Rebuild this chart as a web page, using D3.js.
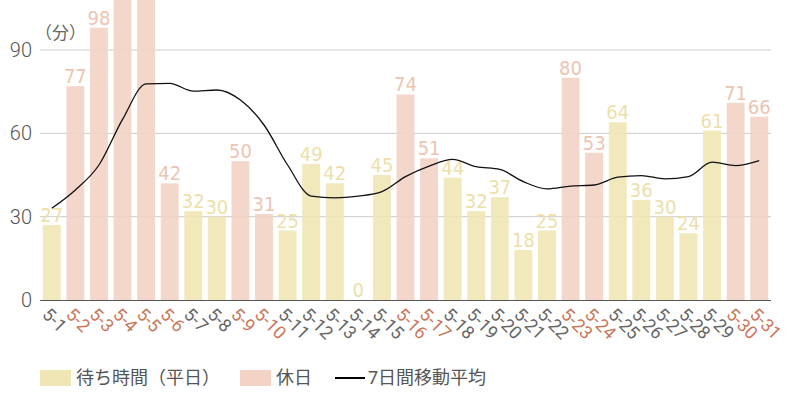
<!DOCTYPE html>
<html><head><meta charset="utf-8">
<script src="https://cdn.jsdelivr.net/npm/d3@7"></script>
<style>
html,body{margin:0;padding:0;background:#fff;}
svg{display:block;font-family:Roboto,"Noto Sans CJK JP",sans-serif;}
</style></head>
<body><svg id="chart" width="800" height="400"></svg>
<script>
const days = ["5-1","5-2","5-3","5-4","5-5","5-6","5-7","5-8","5-9","5-10","5-11","5-12","5-13","5-14","5-15","5-16","5-17","5-18","5-19","5-20","5-21","5-22","5-23","5-24","5-25","5-26","5-27","5-28","5-29","5-30","5-31"];
const waitTimes = [27,77,98,120,115,42,32,30,50,31,25,49,42,0,45,74,51,44,32,37,18,25,80,53,64,36,30,24,61,71,66];
const holidays = ["5-2","5-3","5-4","5-5","5-6","5-9","5-10","5-16","5-17","5-23","5-24","5-30","5-31"];
const movingAvg = [33,39.6,48.6,65,77.8,78,75.2,75.6,72,63,48.6,37.4,36.8,37.4,39,44.4,48.2,50.6,48,47,42.6,40,41,41.4,44.2,44.8,43.6,44.4,49.6,48.4,50.2];
const yTicks = [0,30,60,90];
const unitLabel = "（分）";
const legendLabels = ["待ち時間（平日）","休日","7日間移動平均"];

const colWeek = "#F0E5B5", colHol = "#F2D3C5";
const txtWeek = "#EDE0A8", txtHol = "#EDC4B2";
const axWeek = "#666", axHol = "#C8775A";

const svg = d3.select("#chart");
const x = d3.scaleBand().domain(days).range([40,771]).paddingInner(0.24).paddingOuter(0.12);
const y = d3.scaleLinear().domain([0,108]).range([300,0]);
const isHol = d => holidays.includes(d);

// grid
svg.append("g").selectAll("line").data(yTicks.filter(t=>t>0)).join("line")
  .attr("x1",40).attr("x2",771).attr("y1",d=>y(d)).attr("y2",d=>y(d))
  .attr("stroke","#ccc").attr("stroke-width",1);

// y tick labels
svg.append("g").selectAll("text").data(yTicks).join("text")
  .attr("x",32).attr("y",d=>y(d)).attr("dy","0.35em").attr("text-anchor","end")
  .attr("font-size",20).attr("fill","#555").attr("font-weight",300).text(d=>d);
svg.append("text").attr("x",35).attr("y",39).attr("font-size",17).attr("fill","#666").text(unitLabel);

// bars
const data = days.map((d,i)=>({d,v:waitTimes[i]}));
svg.append("g").selectAll("rect").data(data).join("rect")
  .attr("x",d=>x(d.d)).attr("width",x.bandwidth())
  .attr("y",d=>Math.max(-2,y(d.v))).attr("height",d=>Math.max(0,y(0)-Math.max(-2,y(d.v))))
  .attr("fill",d=>isHol(d.d)?colHol:colWeek).attr("fill-opacity",0.9);

// value labels (those above the visible range are off-canvas in the reference)
svg.append("g").selectAll("text").data(data.filter(d=>d.v<=y.domain()[1]-8)).join("text")
  .attr("x",d=>x(d.d)+x.bandwidth()/2).attr("y",d=>y(d.v)-3)
  .attr("text-anchor","middle").attr("font-size",20)
  .attr("font-family","'Liberation Sans Narrow','DejaVu Sans Condensed',sans-serif")
  .attr("fill",d=>isHol(d.d)?txtHol:txtWeek).text(d=>d.v);

// axis line
svg.append("line").attr("x1",40).attr("x2",771).attr("y1",y(0)+0.5).attr("y2",y(0)+0.5)
  .attr("stroke","#555").attr("stroke-width",1.2);

// x labels
svg.append("g").selectAll("text").data(days).join("text")
  .attr("transform",d=>`translate(${x(d)+x.bandwidth()/2-6},${311}) rotate(45)`)
  .attr("dy","0.35em").attr("font-size",18).attr("fill",d=>isHol(d)?axHol:axWeek)
  .text(d=>d);

// moving average line
const line = d3.line().x((v,i)=>x(days[i])+x.bandwidth()/2).y(v=>y(v)).curve(d3.curveMonotoneX);
svg.append("path").datum(movingAvg).attr("d",line).attr("fill","none")
  .attr("stroke","#111").attr("stroke-width",1.3);

// legend
const lg = svg.append("g").attr("font-size",18).attr("fill","#555");
lg.append("rect").attr("x",40).attr("y",370).attr("width",31).attr("height",16).attr("fill",colWeek);
lg.append("text").attr("x",76).attr("y",378).attr("dy","0.35em").text(legendLabels[0]);
lg.append("rect").attr("x",240).attr("y",370).attr("width",31).attr("height",16).attr("fill",colHol);
lg.append("text").attr("x",276).attr("y",378).attr("dy","0.35em").text(legendLabels[1]);
lg.append("line").attr("x1",335).attr("x2",365).attr("y1",378).attr("y2",378).attr("stroke","#000").attr("stroke-width",2);
lg.append("text").attr("x",368).attr("y",378).attr("dy","0.35em").text(legendLabels[2]);
</script></body></html>
